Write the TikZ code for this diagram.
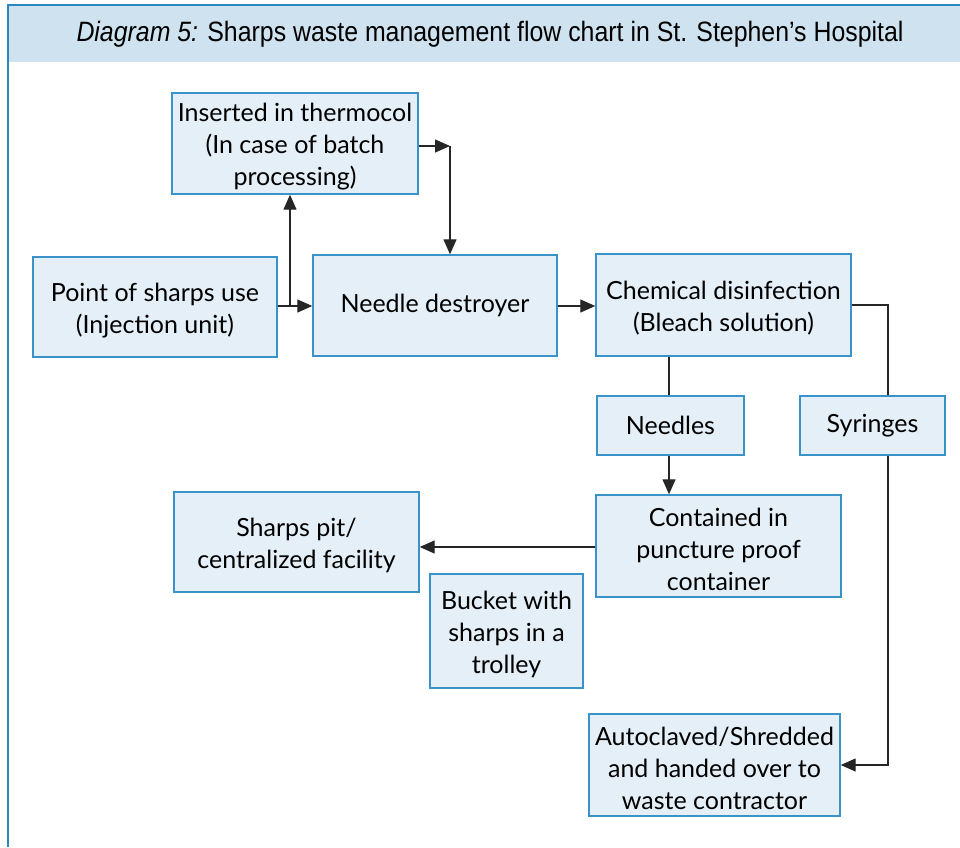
\documentclass[tikz,border=0pt]{standalone}
\usepackage{fontspec}
\usepackage{graphicx}
\setmainfont{Lato}
\newfontfamily\titlefont{Liberation Sans}
\usetikzlibrary{arrows.meta}
\definecolor{boxfill}{HTML}{E4EFF7}
\definecolor{boxline}{HTML}{3A93C8}
\definecolor{headfill}{HTML}{CFE2EF}
\definecolor{headline}{HTML}{2A86BE}
% a tall strut on the first line drops multi-line text a little in its box
\newcommand{\tallfirst}{\rule{0pt}{25pt}}
\tikzset{
  flowbox/.style={draw=boxline, fill=boxfill, line width=1.4pt, align=center,
    inner sep=0pt, font=\fontsize{25}{32}\selectfont},
  link/.style={line width=1.3pt, draw=black!85},
  arr/.style={link, -{Triangle[length=15pt,width=13pt]}},
}
\begin{document}
\begin{tikzpicture}[x=1pt,y=-1pt]
\useasboundingbox (0,0) rectangle (960,847);
% header band and frame
\fill[headfill] (8,5) rectangle (960,62);
\draw[headline, line width=1.5pt] (7,5) -- (960,5);
\draw[headline, line width=2pt] (8,4.5) -- (8,847);
\node[anchor=base] (title) at (490,41) {\resizebox{827pt}{\height}{\titlefont\fontsize{28}{32}\selectfont\textit{Diagram 5:} Sharps waste management flow chart in St. Stephen’s Hospital}};

% boxes
\node[flowbox, minimum width=246pt, minimum height=101pt] (th) at (295,143.5) {\tallfirst Inserted in thermocol\\(In case of batch\\processing)};
\node[flowbox, minimum width=244pt, minimum height=100pt] (pt) at (155,307) {\tallfirst Point of sharps use\\(Injection unit)};
\node[flowbox, minimum width=244pt, minimum height=101pt] (nd) at (435,305.5) {Needle destroyer};
\node[flowbox, minimum width=255pt, minimum height=102pt] (ch) at (723.5,305) {\tallfirst Chemical disinfection\\(Bleach solution)};
\node[flowbox, minimum width=147pt, minimum height=59pt] (ne) at (670.5,425.5) {Needles};
\node[flowbox, minimum width=145pt, minimum height=59pt] (sy) at (872.5,425.5) {Syringes};
\node[flowbox, minimum width=245pt, minimum height=102pt] (co) at (718.5,546) {\tallfirst Contained in\\puncture proof\\container};
\node[flowbox, minimum width=245pt, minimum height=100pt] (pi) at (296.5,542) {\tallfirst Sharps pit/\\centralized facility};
\node[flowbox, minimum width=153pt, minimum height=114pt] (bu) at (506.5,631) {\tallfirst Bucket with\\sharps in a\\trolley};
\node[flowbox, minimum width=251pt, minimum height=102pt] (au) at (714.5,765) {\tallfirst Autoclaved/Shredded\\and handed over to\\waste contractor};

% routing points
\coordinate (j1) at (290,306);
\coordinate (c2) at (450,146);
\coordinate (c3) at (888,305);
\coordinate (c4) at (669,0);

% connectors
\draw[arr] (pt.east |- j1) -- (nd.west |- j1);
\draw[arr] (j1) -- (j1 |- th.south);
\draw[arr] (th.east |- c2) -- (c2);
\draw[arr] (c2) -- (c2 |- nd.north);
\draw[arr] (nd.east |- j1) -- (ch.west |- j1);
\draw[link] (ch.east |- c3) -- (c3) -- (c3 |- sy.north);
\draw[arr] (c3 |- sy.south) |- (au.east);
\draw[link] (c4 |- ch.south) -- (c4 |- ne.north);
\draw[arr] (c4 |- ne.south) -- (c4 |- co.north);
\draw[arr] (co.west) ++(0,1) -- (pi.east |- 0,547);
\end{tikzpicture}
\end{document}
